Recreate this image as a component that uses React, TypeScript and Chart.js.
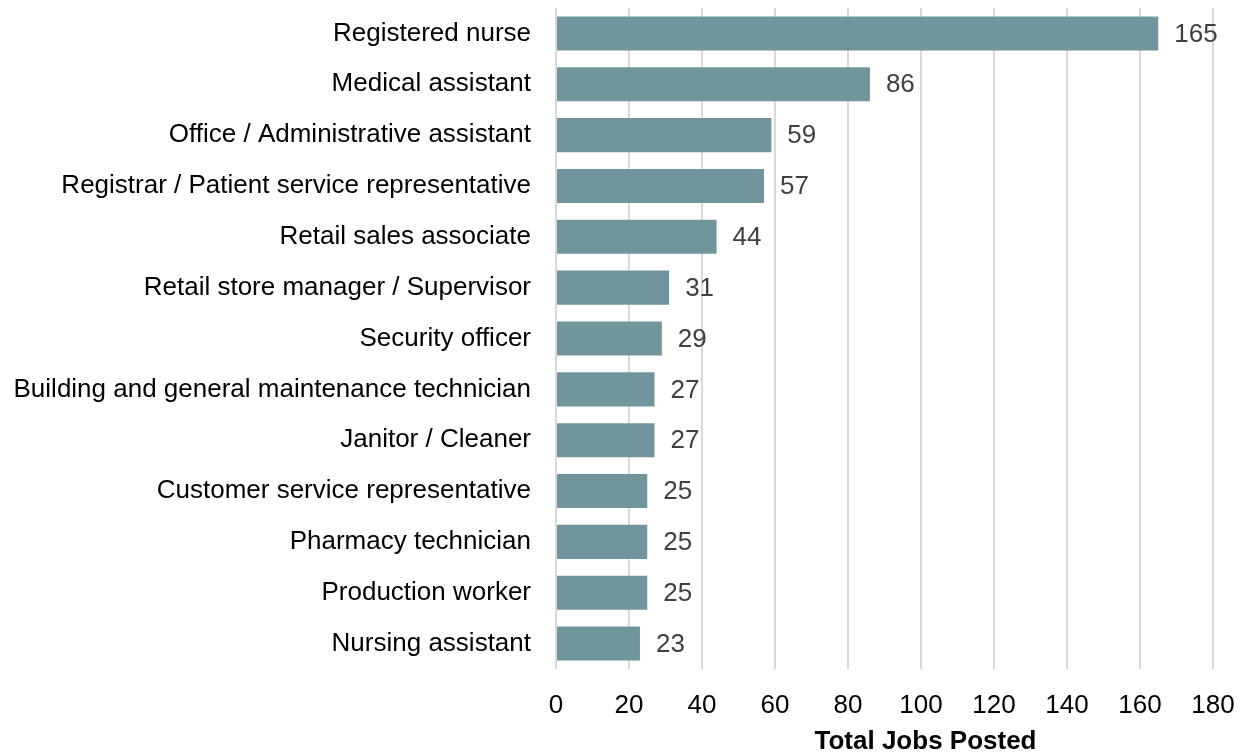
import React, { useEffect, useRef } from "react";
import { Chart, registerables } from "chart.js";

Chart.register(...registerables);

const categories = [
  "Registered nurse",
  "Medical assistant",
  "Office / Administrative assistant",
  "Registrar / Patient service representative",
  "Retail sales associate",
  "Retail store manager / Supervisor",
  "Security officer",
  "Building and general maintenance technician",
  "Janitor / Cleaner",
  "Customer service representative",
  "Pharmacy technician",
  "Production worker",
  "Nursing assistant",
];
const jobsPosted = [165, 86, 59, 57, 44, 31, 29, 27, 27, 25, 25, 25, 23];
const axisTitle = "Total Jobs Posted";
const xMin = 0;
const xMax = 180;
const xStep = 20;

const FONT = "'Liberation Sans', Arial, sans-serif";

export default function App() {
  const ref = useRef<HTMLCanvasElement | null>(null);

  useEffect(() => {
    document.body.style.margin = "0";
    const canvas = ref.current;
    if (!canvas) return;

    const valueLabels = {
      id: "valueLabels",
      afterDatasetsDraw(chart: any) {
        const ctx = chart.ctx;
        const meta = chart.getDatasetMeta(0);
        ctx.save();
        ctx.font = `26px ${FONT}`;
        ctx.fillStyle = "#404040";
        ctx.textAlign = "left";
        ctx.textBaseline = "middle";
        meta.data.forEach((bar: any, i: number) => {
          ctx.fillText(String(jobsPosted[i]), bar.x + 16, bar.y + 1);
        });
        ctx.restore();
      },
    };

    const axisTitlePlugin = {
      id: "axisTitle",
      afterDraw(chart: any) {
        const ctx = chart.ctx;
        const area = chart.chartArea;
        ctx.save();
        ctx.font = `bold 26px ${FONT}`;
        ctx.fillStyle = "#000";
        ctx.textAlign = "center";
        ctx.textBaseline = "middle";
        ctx.fillText(axisTitle, (area.left + area.right) / 2 + 41, 742);
        ctx.restore();
      },
    };

    const chart = new Chart(canvas, {
      type: "bar",
      data: {
        labels: categories,
        datasets: [
          {
            data: jobsPosted,
            backgroundColor: "#71959c",
            borderWidth: 0,
            categoryPercentage: 1,
            barPercentage: 0.67,
          },
        ],
      },
      options: {
        indexAxis: "y",
        animation: false,
        responsive: false,
        maintainAspectRatio: false,
        layout: { padding: { top: 8, right: 33, bottom: 0, left: 0 } },
        plugins: {
          legend: { display: false },
          tooltip: { enabled: false },
        },
        scales: {
          x: {
            min: xMin,
            max: xMax,
            afterFit: (s: any) => {
              s.height = 86;
              s.paddingLeft = 0;
              s.paddingRight = 0;
            },
            ticks: {
              stepSize: xStep,
              color: "#000",
              font: { family: FONT, size: 26 },
              padding: 21,
            },
            grid: {
              color: "#d9d9d9",
              lineWidth: 2,
              drawTicks: false,
            },
            border: { display: false },
          },
          y: {
            afterFit: (s: any) => {
              s.width = 556;
              s.paddingTop = 0;
              s.paddingBottom = 0;
            },
            ticks: {
              color: "#000",
              font: { family: FONT, size: 26 },
              padding: 25,
            },
            grid: { display: false, drawTicks: false },
            border: { display: false },
          },
        },
      },
      plugins: [valueLabels, axisTitlePlugin],
    });

    return () => chart.destroy();
  }, []);

  return (
    <div style={{ position: "absolute", left: 0, top: 0, width: 1246, height: 755 }}>
      <canvas ref={ref} width={1246} height={755} style={{ width: 1246, height: 755 }} />
    </div>
  );
}
